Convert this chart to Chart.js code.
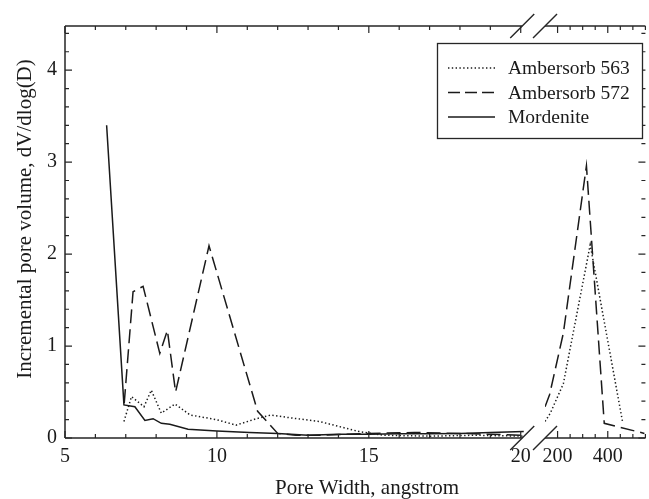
<!DOCTYPE html>
<html>
<head>
<meta charset="utf-8">
<script src="https://cdn.jsdelivr.net/npm/chart.js@4.4.1/dist/chart.umd.min.js"></script>
<style>
  html, body { margin: 0; padding: 0; background: #fff; overflow: hidden; }
  canvas { display: block; }
</style>
</head>
<body>
<canvas id="psd" width="649" height="499"></canvas>
<script>
// Incremental pore volume vs. pore width, with a broken x axis:
// a narrow range (5-20 Å) and a wide range (150-550 Å).

const seriesNames = ['Ambersorb 563', 'Ambersorb 572', 'Mordenite'];

// Mordenite (narrow range only)
const mordeniteWidth  = [6.37, 6.94, 7.30, 7.63, 7.90, 8.17, 8.45, 9.05, 10.0, 11.07, 12.0, 13.0, 14.0, 15.0, 16.0, 17.0, 18.0, 19.0, 20.1];
const mordeniteVolume = [3.40, 0.36, 0.34, 0.19, 0.21, 0.16, 0.15, 0.095, 0.075, 0.06, 0.05, 0.03, 0.04, 0.04, 0.045, 0.045, 0.05, 0.06, 0.07];

// Ambersorb 572, narrow and wide ranges
const a572NarrowWidth  = [6.95, 7.24, 7.57, 8.12, 8.37, 8.64, 9.74, 11.34, 12.0, 12.6, 13.5, 15.0, 16.5, 18.0, 19.0, 20.1];
const a572NarrowVolume = [0.38, 1.59, 1.65, 0.92, 1.17, 0.50, 2.09, 0.29, 0.05, 0.03, 0.03, 0.05, 0.06, 0.05, 0.04, 0.03];
const a572WideWidth    = [150, 168, 223, 315, 386, 546];
const a572WideVolume   = [0.34, 0.47, 1.14, 2.96, 0.16, 0.05];

// Ambersorb 563, narrow and wide ranges
const a563NarrowWidth  = [6.94, 7.19, 7.60, 7.84, 8.17, 8.62, 9.12, 9.98, 10.63, 11.30, 11.78, 12.40, 13.37, 14.68, 15.5, 17.0, 18.5, 20.1];
const a563NarrowVolume = [0.18, 0.45, 0.34, 0.52, 0.27, 0.37, 0.25, 0.20, 0.14, 0.21, 0.25, 0.22, 0.18, 0.07, 0.03, 0.02, 0.03, 0.02];
const a563WideWidth    = [150, 171, 223, 262, 330, 460];
const a563WideVolume   = [0.18, 0.27, 0.59, 1.14, 2.10, 0.16];

// Axis ticks
const xTicksNarrow = [5, 10, 15, 20];
const xTicksWide   = [200, 400];
const yTicks       = [0, 1, 2, 3, 4];

const SERIF = "'Liberation Serif', 'Times New Roman', Times, serif";
const INK = '#1a1a1a';
const AXIS = '#262626';
const DASH = [14, 6];
const DOT = [1.4, 2.4];

const toPoints = (xs, ys) => xs.map((x, i) => ({ x, y: ys[i] }));

function curve(label, xs, ys, axisID, dash) {
  return {
    label,
    data: toPoints(xs, ys),
    xAxisID: axisID,
    yAxisID: 'y',
    borderColor: INK,
    borderWidth: 1.5,
    borderDash: dash,
    pointRadius: 0,
    tension: 0,
    fill: false
  };
}

// Axis frame, inward tick marks, break marks, titles and boxed legend
const decorations = {
  id: 'decorations',
  afterDatasetsDraw(chart) {
    const { ctx, chartArea: a, scales } = chart;
    const { xL, xR, y } = scales;
    const breakNarrow = xL.getPixelForValue(20.05);
    const breakWide = xR.left;

    ctx.save();
    ctx.strokeStyle = AXIS;
    ctx.lineWidth = 1.5;
    ctx.lineCap = 'butt';

    // axis lines (interrupted at the break)
    ctx.beginPath();
    for (const yy of [a.bottom, a.top]) {
      ctx.moveTo(a.left, yy); ctx.lineTo(breakNarrow, yy);
      ctx.moveTo(breakWide, yy); ctx.lineTo(a.right, yy);
    }
    ctx.moveTo(a.left, a.top); ctx.lineTo(a.left, a.bottom);
    ctx.stroke();

    // x tick marks, bottom and top, pointing inward
    ctx.lineWidth = 1.2;
    ctx.beginPath();
    const xMark = (px, major) => {
      const len = major ? 7 : 4;
      ctx.moveTo(px, a.bottom); ctx.lineTo(px, a.bottom - len);
      ctx.moveTo(px, a.top); ctx.lineTo(px, a.top + len);
    };
    for (let v = 5; v <= 20; v++) xMark(xL.getPixelForValue(v), xTicksNarrow.includes(v));
    for (let v = 200; v <= xR.max; v += 50) xMark(xR.getPixelForValue(v), xTicksWide.includes(v));

    // y tick marks, left and right, pointing inward
    for (let k = 0; k <= 22; k++) {
      const py = y.getPixelForValue(k / 5);
      const len = k % 5 === 0 ? 7 : 4;
      ctx.moveTo(a.left, py); ctx.lineTo(a.left + len, py);
      ctx.moveTo(a.right, py); ctx.lineTo(a.right - len, py);
    }
    ctx.stroke();

    // break marks
    ctx.lineWidth = 1.4;
    ctx.beginPath();
    for (const cx of [breakNarrow, breakWide]) {
      for (const cy of [a.bottom, a.top]) {
        ctx.moveTo(cx - 12, cy + 12); ctx.lineTo(cx + 12, cy - 12);
      }
    }
    ctx.stroke();

    // axis titles
    ctx.fillStyle = INK;
    ctx.font = '21px ' + SERIF;
    ctx.textAlign = 'center';
    ctx.textBaseline = 'middle';
    ctx.fillText('Pore Width, angstrom', 367, 488);
    ctx.save();
    ctx.translate(25, 219);
    ctx.rotate(-Math.PI / 2);
    ctx.fillText('Incremental pore volume, dV/dlog(D)', 0, 0);
    ctx.restore();

    // legend
    const box = { x: 437.5, y: 43.5, w: 205, h: 95 };
    ctx.fillStyle = '#fff';
    ctx.fillRect(box.x, box.y, box.w, box.h);
    ctx.strokeStyle = AXIS;
    ctx.lineWidth = 1.3;
    ctx.strokeRect(box.x, box.y, box.w, box.h);
    const dashes = [DOT, [12, 5], []];
    ctx.font = '19.5px ' + SERIF;
    ctx.textAlign = 'left';
    ctx.fillStyle = INK;
    seriesNames.forEach((name, i) => {
      const cy = 68 + i * 24.5;
      ctx.beginPath();
      ctx.strokeStyle = INK;
      ctx.lineWidth = 1.4;
      ctx.setLineDash(dashes[i]);
      ctx.moveTo(448, cy); ctx.lineTo(495, cy);
      ctx.stroke();
      ctx.setLineDash([]);
      ctx.fillText(name, 508, cy + 1);
    });
    ctx.restore();
  }
};

const tickFont = { family: SERIF, size: 20 };

new Chart(document.getElementById('psd'), {
  type: 'line',
  data: {
    datasets: [
      curve(seriesNames[0], a563NarrowWidth, a563NarrowVolume, 'xL', DOT),
      curve(seriesNames[1], a572NarrowWidth, a572NarrowVolume, 'xL', DASH),
      curve(seriesNames[2], mordeniteWidth, mordeniteVolume, 'xL', []),
      curve(seriesNames[0], a563WideWidth, a563WideVolume, 'xR', DOT),
      curve(seriesNames[1], a572WideWidth, a572WideVolume, 'xR', DASH)
    ]
  },
  options: {
    responsive: false,
    animation: false,
    events: [],
    layout: { padding: { left: 0, right: 0, top: 26, bottom: 0 } },
    plugins: { legend: { display: false }, tooltip: { enabled: false } },
    scales: {
      xL: {
        type: 'linear', position: 'bottom', stack: 'pw', stackWeight: 483,
        min: 5, max: 20.8, bounds: 'data',
        afterBuildTicks: s => { s.ticks = xTicksNarrow.map(value => ({ value })); },
        afterFit: s => { s.height = 61; },
        grid: { display: false, drawTicks: false },
        border: { display: false },
        ticks: { font: tickFont, color: INK, padding: 7, maxRotation: 0, autoSkip: false }
      },
      xR: {
        type: 'linear', position: 'bottom', stack: 'pw', stackWeight: 101,
        min: 150, max: 550, bounds: 'data',
        afterBuildTicks: s => { s.ticks = xTicksWide.map(value => ({ value })); },
        afterFit: s => { s.height = 61; },
        grid: { display: false, drawTicks: false },
        border: { display: false },
        ticks: { font: tickFont, color: INK, padding: 7, maxRotation: 0, autoSkip: false }
      },
      y: {
        type: 'linear', position: 'left',
        min: 0, max: 4.48, bounds: 'data',
        afterBuildTicks: s => { s.ticks = yTicks.map(value => ({ value })); },
        afterFit: s => { s.width = 65; },
        grid: { display: false, drawTicks: false },
        border: { display: false },
        ticks: { font: tickFont, color: INK, padding: 8 }
      }
    }
  },
  plugins: [decorations]
});
</script>
</body>
</html>
